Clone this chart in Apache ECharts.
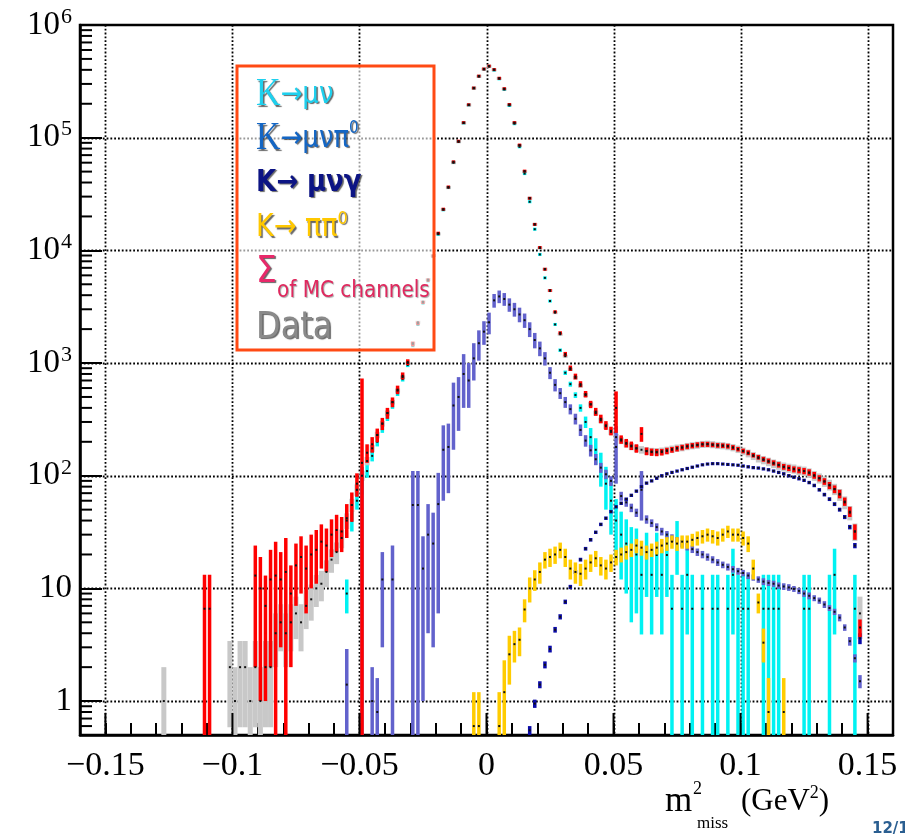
<!DOCTYPE html>
<html>
<head>
<meta charset="utf-8">
<script src="https://cdn.jsdelivr.net/npm/echarts@6/dist/echarts.min.js"></script>
<style>
  html, body { margin: 0; padding: 0; background: #fff; }
  #chart { width: 905px; height: 836px; }
</style>
</head>
<body>
<div id="chart"></div>
<script>
// ---- binning of m^2_miss histograms (bin centres) ----
const BIN_W = 0.002;

// Data (counts per bin), first bin centre:
const dataStart = -0.127;
const dataCounts = [
  1, 0, 0, 0, 0, 0, 0, 0, 0, 0,
  0, 0, 0, 2, 1, 2, 2, 1, 2, 1,
  2, 2, 4, 5, 4, 5, 6, 5, 7, 8,
  10, 11, 14, 18, 21, 28, 40, 55, 75, 100,
  135, 175, 230, 290, 360, 450, 570, 750, 1000, 1500,
  2300, 3500, 5500, 9000, 14000, 23000, 36000, 60000, 92000, 135000,
  195000, 275000, 350000, 405000, 430000, 400000, 335000, 270000, 195000, 135000,
  85000, 50000, 29000, 17000, 10500, 6800, 4400, 2800, 1800, 1150,
  880, 740, 630, 520, 430, 360, 310, 275, 245, 220,
  205, 192, 182, 175, 170, 166, 164, 163, 165, 168,
  172, 176, 178, 182, 185, 187, 190, 191, 189, 186,
  185, 182, 178, 172, 165, 158, 150, 143, 138, 133,
  128, 124, 120, 117, 115, 112, 110, 106, 100, 95,
  89, 83, 76, 68, 58, 47, 32, 6
];

// Sum of MC channels
const sumStart = -0.111;
const sumValues = [
  6.6, 6.6, 0, 0, 0, 0, 0, 0, 0, 0,
  13, 10, 7, 12, 13, 12, 14, 9, 16, 19,
  15, 20, 22, 26, 24, 30, 33, 32, 42, 55,
  85, 130, 160, 190, 230, 290, 360, 450, 580, 770,
  1020, 1480, 2250, 3450, 5450, 8900, 14200, 23200, 36500, 61000,
  93000, 136000, 196000, 276000, 352000, 407000, 432000, 402000, 337000, 272000,
  197000, 136000, 86000, 50500, 29000, 17000, 10600, 6800, 4400, 2850,
  1850, 1200, 900, 760, 650, 530, 430, 370, 320, 280,
  250, 400, 210, 195, 185, 175, 235, 165, 162, 161,
  162, 166, 170, 174, 178, 182, 185, 188, 190, 190,
  188, 186, 185, 183, 178, 172, 166, 160, 152, 146,
  140, 135, 130, 125, 120, 117, 114, 112, 110, 107,
  101, 95, 89, 82, 76, 69, 59, 48, 32, 4.5
];
const sumErrors = [
  6.6, 6.6, 0, 0, 0, 0, 0, 0, 0, 0,
  11, 9, 6, 10, 13, 9, 14, 7, 9, 10,
  9, 10, 11, 11, 10, 11, 12, 11, 14, 16,
  20, 600, 30, 30, 32, 36, 40, 45, 50, 55,
  60, 70, 80, 90, 110, 140, 180, 230, 300, 400,
  500, 600, 700, 850, 950, 1000, 1000, 1000, 900, 800,
  700, 600, 450, 350, 260, 200, 160, 120, 100, 80,
  65, 55, 50, 45, 40, 35, 32, 30, 28, 25,
  22, 160, 18, 17, 16, 15, 35, 13, 12, 12,
  11, 11, 10, 10, 10, 10, 10, 10, 10, 10,
  9, 9, 9, 9, 9, 8, 8, 8, 7, 7,
  7, 7, 7, 7, 7, 7, 7, 7, 7, 7,
  7, 6, 6, 6, 6, 6, 5, 5, 5, 0.8
];

// K -> mu nu
const kmunuStart = -0.055;
const kmunuValues = [
  9, 40, 60, 80, 110, 150, 200, 260, 330, 420,
  540, 720, 960, 1430, 2200, 3400, 5350, 8800, 13900, 22900,
  36200, 60500, 92400, 135000, 195000, 275000, 350000, 405000, 429000, 398000,
  333000, 268000, 193000, 133000, 83000, 48000, 27000, 15400, 9200, 5700,
  3550, 2200, 1300, 820, 650, 520, 400, 300, 220, 170,
  120, 85, 60, 40, 30, 25, 20, 20, 13.2, 19.8,
  13.2, 19.8, 13.2, 19.8, 6.6, 26.4, 6.6, 13.2, 6.6, 0,
  6.6, 0, 6.6, 6.6, 0, 6.6, 13.2, 6.6, 6.6, 6.6,
  0, 0, 6.6, 6.6, 6.6, 6.6, 0, 0, 0, 0,
  6.6, 6.6, 0, 0, 0, 6.6, 13.2, 0, 0, 0,
  6.6
];
const kmunuErrors = [
  3, 8, 10, 12, 14, 16, 18, 20, 24, 28,
  30, 35, 40, 50, 60, 75, 95, 120, 150, 200,
  250, 320, 400, 470, 560, 670, 750, 800, 830, 800,
  740, 660, 560, 470, 370, 280, 210, 160, 120, 95,
  75, 60, 46, 37, 33, 30, 30, 35, 45, 45,
  40, 35, 30, 22, 18, 16, 15, 14, 9.3, 11.4,
  9.3, 11.4, 9.3, 11.4, 6.6, 13.2, 6.6, 9.3, 6.6, 0,
  6.6, 0, 6.6, 6.6, 0, 6.6, 9.3, 6.6, 6.6, 6.6,
  0, 0, 6.6, 6.6, 6.6, 6.6, 0, 0, 0, 0,
  6.6, 6.6, 0, 0, 0, 6.6, 9.3, 0, 0, 0,
  6.6
];

// K -> mu nu pi0
const kmunupi0Start = -0.055;
const kmunupi0Values = [
  1.4, 0, 0, 60, 0, 1, 0.8, 12, 0, 12,
  0, 0, 0, 55, 55, 15, 30, 25, 56, 170,
  180, 420, 500, 800, 700, 1100, 1500, 1900, 2300, 3600,
  3900, 3700, 3300, 3000, 2700, 2400, 2000, 1600, 1350, 1100,
  820, 640, 540, 450, 390, 320, 255, 205, 168, 140,
  118, 103, 90, 180, 66, 58, 52, 47, 75, 41,
  38, 35, 32, 30, 28, 26.5, 25, 23.5, 22.3, 21,
  20, 19, 18, 17, 16.2, 15.5, 14.8, 14.2, 13.7, 13,
  12.5, 12, 11.5, 11.2, 11, 10.6, 10.4, 10.2, 9.9, 9.5,
  9, 8.6, 8.2, 7.8, 7.2, 6.7, 6.2, 5.5, 4.5, 3.4,
  2.4, 1.5
];
const kmunupi0Errors = [
  1.5, 0, 0, 60, 0, 1, 0.8, 9, 0, 12,
  0, 0, 0, 55, 55, 14, 26, 22, 50, 110,
  110, 250, 250, 400, 300, 400, 450, 450, 500, 500,
  500, 480, 450, 420, 400, 350, 300, 250, 200, 150,
  100, 80, 60, 50, 40, 35, 30, 24, 20, 16,
  12, 10, 9, 95, 6, 5, 4.5, 4, 35, 3.5,
  3, 2.8, 2.5, 2.3, 2.2, 2, 1.9, 1.8, 1.7, 1.6,
  1.5, 1.4, 1.3, 1.2, 1.1, 1.1, 1, 1, 0.9, 0.9,
  0.8, 0.8, 0.8, 0.7, 0.7, 0.7, 0.7, 0.7, 0.6, 0.6,
  0.6, 0.6, 0.5, 0.5, 0.5, 0.4, 0.4, 0.4, 0.3, 0.3,
  0.2, 0.2
];

// K -> mu nu gamma
const kmunugStart = 0.017;
const kmunugValues = [
  0.55, 0.95, 1.4, 2.1, 2.9, 4.3, 5.6, 7.6, 10.3, 14,
  18, 22.5, 27, 31.5, 37, 42, 48, 53, 57, 62,
  67, 73, 80, 86, 90, 95, 100, 104, 107, 110,
  113, 116, 119, 122, 125, 127, 128, 128, 127, 126,
  125, 124, 122, 120, 118, 117, 115, 113, 110, 107,
  104, 100, 97, 94, 91, 87, 82, 75, 68, 62,
  56, 50, 43, 35, 24, 3.6
];
const kmunugErrors = [
  0.05, 0.08, 0.1, 0.15, 0.2, 0.25, 0.3, 0.35, 0.45, 0.55,
  0.7, 0.85, 1, 1.1, 1.3, 1.5, 1.7, 1.8, 2, 2.1,
  2.3, 2.5, 2.7, 2.9, 3, 3.2, 3.3, 3.4, 3.5, 3.6,
  3.7, 3.8, 3.9, 4, 4, 4.1, 4.1, 4.1, 4.1, 4,
  4, 4, 4, 4, 3.9, 3.9, 3.8, 3.8, 3.7, 3.6,
  3.5, 3.4, 3.3, 3.2, 3.1, 3, 2.9, 2.7, 2.5, 2.4,
  2.2, 2, 1.8, 1.6, 1.3, 0.4
];

// K -> pi pi0
const kpipi0Start = -0.005;
const kpipi0Values = [
  0.6, 0.6, 0, 0, 0, 0.6, 1.2, 2.6, 3.2, 3.5,
  6.5, 10, 12, 14, 18, 19, 20, 22, 19, 15,
  14, 13.5, 15, 17, 18.5, 16, 15, 17, 19, 20,
  21, 22, 24, 23, 21, 22, 23, 24, 25, 26,
  25, 26, 26, 27, 28, 29, 30, 29, 28, 30,
  32, 30, 30, 28, 25, 15, 7.5, 3.3, 0.8, 0,
  0, 0.8
];
const kpipi0Errors = [
  0.6, 0.6, 0, 0, 0, 0.6, 1.1, 1.2, 1, 1,
  1.5, 2.5, 2.5, 3, 3, 3.5, 3.5, 3.5, 3.5, 3,
  3, 3, 3, 3, 3, 3, 3, 3, 3, 3,
  3, 3, 3.5, 3.5, 3, 3, 3, 3.5, 3.5, 3.5,
  3.5, 3.5, 3.5, 3.5, 4, 4, 4, 4, 4, 4,
  4, 4, 4, 4, 4, 3, 1.5, 1.1, 0.8, 0,
  0, 0.8
];

// Axis ticks, grid lines and labels
const xMajorTicks = [-0.15, -0.1, -0.05, 0, 0.05, 0.1, 0.15];
const yDecades = [1, 10, 100, 1000, 10000, 100000];
const yMinorTicks = [
  0.6, 0.7, 0.8, 0.9,
  2, 3, 4, 5, 6, 7, 8, 9,
  20, 30, 40, 50, 60, 70, 80, 90,
  200, 300, 400, 500, 600, 700, 800, 900,
  2000, 3000, 4000, 5000, 6000, 7000, 8000, 9000,
  20000, 30000, 40000, 50000, 60000, 70000, 80000, 90000,
  200000, 300000, 400000, 500000, 600000, 700000, 800000, 900000
];

// ---- helpers ----
function toBins(start, values, errors) {
  const out = [];
  for (let i = 0; i < values.length; i++) {
    const v = values[i];
    if (!(v > 0)) continue;
    const e = errors ? errors[i] : Math.sqrt(v);   // data: Poisson errors
    out.push([start + i * BIN_W, v, e]);
  }
  return out;
}

function errorBars(color, barW, withDot) {
  return function (params, api) {
    const x = api.value(0), v = api.value(1), e = api.value(2);
    const cs = params.coordSys;
    const yTop = cs.y, yBot = cs.y + cs.height;
    const c = api.coord([x, v]);
    const children = [];
    if (color) {
      let top = api.coord([x, v + e])[1];
      let bot = (v - e > 0) ? api.coord([x, v - e])[1] : yBot;
      if (bot - top < 3) { top = c[1] - 1.5; bot = c[1] + 1.5; }
      top = Math.max(top, yTop);
      bot = Math.min(bot, yBot);
      if (bot > top) {
        children.push({
          type: 'rect',
          shape: { x: c[0] - barW / 2, y: top, width: barW, height: bot - top },
          style: { fill: color }
        });
      }
    }
    if (withDot && c[1] >= yTop && c[1] <= yBot) {
      children.push({
        type: 'rect',
        shape: { x: c[0] - 1, y: c[1] - 1, width: 2, height: 2 },
        style: { fill: '#111' }
      });
    }
    return { type: 'group', children: children };
  };
}

function histSeries(name, data, color, barW, withDot) {
  return {
    name: name, type: 'custom', data: data,
    encode: { x: 0, y: 1 },
    renderItem: errorBars(color, barW, withDot),
    silent: true, z: 3
  };
}

const gridLineStyle = { stroke: '#000', lineWidth: 1.8, lineDash: [1.8, 2.0] };

const chart = echarts.init(document.getElementById('chart'), null, { renderer: 'canvas' });

const serif = 'Liberation Serif';
const sans = 'DejaVu Sans';
const shadow = { textShadowColor: 'rgba(0,0,0,0.6)', textShadowBlur: 1, textShadowOffsetX: 1.5, textShadowOffsetY: 1.5 };

// legend lines are drawn slightly taller than wide (scaled about their own centre line)
function legendText(x, y, style) {
  return { type: 'text', x: x, y: y, z: 102, scaleY: 1.15, originX: 0, originY: 0,
    style: Object.assign({ align: 'left', verticalAlign: 'middle' }, style) };
}
function tok(o) { return Object.assign({}, shadow, o); }

const option = {
  animation: false,
  backgroundColor: '#fff',
  grid: { left: 80, right: 12, top: 25, bottom: 101, show: true, borderColor: '#000', borderWidth: 2.5, backgroundColor: 'transparent' },
  xAxis: {
    type: 'value', min: -0.16, max: 0.16, interval: 0.01,
    axisLine: { show: true, onZero: false, lineStyle: { color: '#000', width: 2.5 } },
    axisTick: { show: true, inside: true, length: 12, lineStyle: { color: '#000', width: 2 } },
    splitLine: { show: false },
    axisLabel: {
      show: true, margin: 14, color: '#000', fontFamily: serif, fontSize: 34,
      formatter: function (v) {
        const r = Math.round(v * 100);
        if (r % 5 !== 0 || Math.abs(r) > 15) return '';
        if (r === 0) return '0';
        const s = String(Math.abs(r) / 100);
        return (r < 0 ? '\u2212' : '') + s;
      }
    }
  },
  yAxis: {
    type: 'log', logBase: 10, min: 0.5, max: 1000000,
    axisLine: { show: true, onZero: false, lineStyle: { color: '#000', width: 2.5 } },
    axisTick: { show: true, inside: true, length: 22, lineStyle: { color: '#000', width: 2 } },
    splitLine: { show: false },
    minorTick: { show: false },
    axisLabel: {
      show: true, margin: 8, color: '#000', fontFamily: serif, fontSize: 33,
      formatter: function (v) {
        if (v < 0.99) return '';
        const p = Math.round(Math.log10(v));
        if (p === 0) return '1';
        if (p === 1) return '10';
        return '10{sup|' + p + '}';
      },
      rich: {
        sup: { fontFamily: serif, fontSize: 22, color: '#000', verticalAlign: 'top', lineHeight: 38, padding: [0, 0, 0, 1] }
      }
    }
  },
  series: [
    // dotted grid lines
    {
      type: 'custom', silent: true, z: 1,
      data: xMajorTicks.map(v => [v, 1]), encode: { x: 0, y: 1 },
      renderItem: function (params, api) {
        const cs = params.coordSys;
        const px = Math.round(api.coord([api.value(0), 1])[0]) + 0.5;
        return { type: 'line', shape: { x1: px, y1: cs.y, x2: px, y2: cs.y + cs.height }, style: gridLineStyle };
      }
    },
    {
      type: 'custom', silent: true, z: 1,
      data: yDecades.map(v => [0, v]), encode: { x: 0, y: 1 },
      renderItem: function (params, api) {
        const cs = params.coordSys;
        const py = Math.round(api.coord([0, api.value(1)])[1]) + 0.5;
        return { type: 'line', shape: { x1: cs.x, y1: py, x2: cs.x + cs.width, y2: py }, style: gridLineStyle };
      }
    },
    // long x ticks at the labelled values
    {
      type: 'custom', silent: true, z: 5,
      data: xMajorTicks.map(v => [v, 1]), encode: { x: 0, y: 1 },
      renderItem: function (params, api) {
        const cs = params.coordSys;
        const px = api.coord([api.value(0), 1])[0];
        const yb = cs.y + cs.height;
        return { type: 'line', shape: { x1: px, y1: yb, x2: px, y2: yb - 22 }, style: { stroke: '#000', lineWidth: 2 } };
      }
    },
    // short log ticks on the y axis
    {
      type: 'custom', silent: true, z: 5,
      data: yMinorTicks.map(v => [0, v]), encode: { x: 0, y: 1 },
      renderItem: function (params, api) {
        const cs = params.coordSys;
        const py = api.coord([0, api.value(1)])[1];
        return { type: 'line', shape: { x1: cs.x, y1: py, x2: cs.x + 12, y2: py }, style: { stroke: '#000', lineWidth: 2 } };
      }
    },
    histSeries('Data', toBins(dataStart, dataCounts, null), '#c8c8c8', 5, false),
    histSeries('K→μν', toBins(kmunuStart, kmunuValues, kmunuErrors), '#00f2f2', 3.5, true),
    histSeries('K→μνπ0', toBins(kmunupi0Start, kmunupi0Values, kmunupi0Errors), '#6262cc', 3.5, true),
    histSeries('K→μνγ', toBins(kmunugStart, kmunugValues, kmunugErrors), '#0a0aa8', 3.5, true),
    histSeries('K→ππ0', toBins(kpipi0Start, kpipi0Values, kpipi0Errors), '#ffcc00', 3.5, true),
    histSeries('Σ MC', toBins(sumStart, sumValues, sumErrors), '#ff0000', 3.5, true),
    histSeries('Data points', toBins(dataStart, dataCounts, null), null, 0, true)
  ],
  graphic: [
    // legend box
    { type: 'rect', z: 100, shape: { x: 237, y: 66, width: 197, height: 284 },
      style: { fill: 'rgba(255,255,255,0.6)', stroke: '#ff4a14', lineWidth: 3 } },
    legendText(256, 95, { text: '{k|K}{a|→μν}', rich: {
      k: tok({ fontFamily: serif, fontSize: 34, fill: '#1ed0ee' }),
      a: tok({ fontFamily: sans, fontSize: 26, fill: '#1ed0ee' })
    } }),
    legendText(256, 139, { text: '{k|K}{a|→μνπ}{s|0}', rich: {
      k: tok({ fontFamily: serif, fontSize: 34, fill: '#1466c4' }),
      a: tok({ fontFamily: sans, fontSize: 26, fill: '#1466c4' }),
      s: tok({ fontFamily: sans, fontSize: 15, fill: '#1466c4', verticalAlign: 'top', lineHeight: 32 })
    } }),
    legendText(256, 183, { text: '{a|K→ μνγ}', rich: {
      a: tok({ fontFamily: sans, fontSize: 26, fontWeight: 'bold', fill: '#0c1484' })
    } }),
    legendText(256, 228, { text: '{a|K→ ππ}{s|0}', rich: {
      a: tok({ fontFamily: sans, fontSize: 27, fill: '#ffc800' }),
      s: tok({ fontFamily: sans, fontSize: 16, fill: '#ffc800', verticalAlign: 'top', lineHeight: 32 })
    } }),
    legendText(256, 272, Object.assign({ text: 'Σ', fontFamily: sans, fontSize: 33, fill: '#e8296a' }, shadow)),
    legendText(277, 291, { text: 'of MC channels', fontFamily: sans, fontSize: 20, fill: '#e0285e',
      textShadowColor: 'rgba(0,0,0,0.35)', textShadowBlur: 1, textShadowOffsetX: 1, textShadowOffsetY: 1 }),
    legendText(256, 328, Object.assign({ text: 'Data', fontFamily: sans, fontSize: 32, fill: '#8a8a8a' }, shadow)),
    // x-axis title: m^2_miss (GeV^2)
    { type: 'text', x: 665, y: 802, z: 102,
      style: { text: 'm', fontFamily: serif, fontSize: 35, fill: '#000', align: 'left', verticalAlign: 'middle' } },
    { type: 'text', x: 693, y: 789, z: 102,
      style: { text: '2', fontFamily: serif, fontSize: 18, fill: '#000', align: 'left', verticalAlign: 'middle' } },
    { type: 'text', x: 697, y: 824, z: 102,
      style: { text: 'miss', fontFamily: serif, fontSize: 17, fill: '#000', align: 'left', verticalAlign: 'middle' } },
    { type: 'text', x: 741, y: 802, z: 102,
      style: { text: '(GeV{s|2})', fontFamily: serif, fontSize: 31, fill: '#000', align: 'left', verticalAlign: 'middle',
        rich: { s: { fontFamily: serif, fontSize: 18, fill: '#000', verticalAlign: 'top', lineHeight: 36 } } } },
    // page number
    { type: 'text', x: 872, y: 829, z: 102,
      style: { text: '12/1', fontFamily: sans, fontSize: 15, fontWeight: 'bold', fill: '#2a5e90', align: 'left', verticalAlign: 'middle' } }
  ]
};

chart.setOption(option);
</script>
</body>
</html>
